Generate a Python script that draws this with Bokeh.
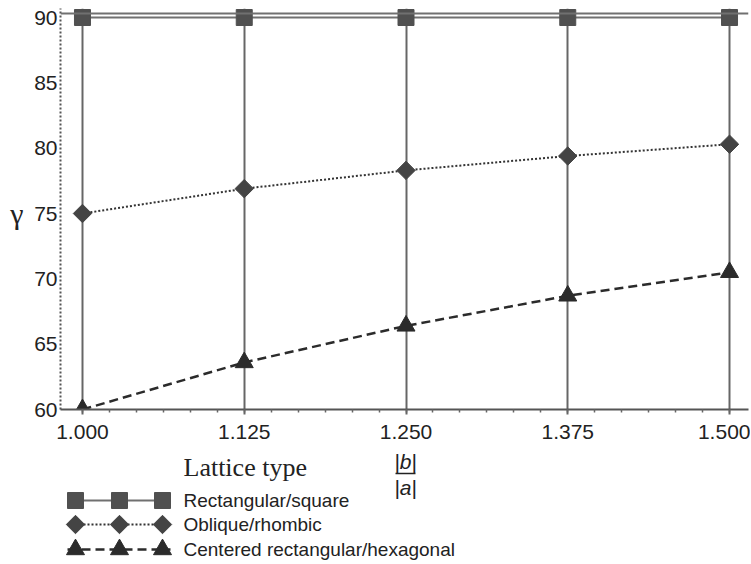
import numpy as np
from bokeh.plotting import figure
from bokeh.models import (Range1d, SingleIntervalTicker, NumeralTickFormatter, Span,
                          LinearAxis, FixedTicker)
from bokeh.layouts import column
from bokeh.embed import file_html
from bokeh.resources import INLINE
from bokeh.core.properties import value

# ---- data ----
ratio = [1.000, 1.125, 1.250, 1.375, 1.500]          # |b|/|a|
rect_square = [90.0, 90.0, 90.0, 90.0, 90.0]
oblique_rhombic = [75.0, 76.9, 78.3, 79.4, 80.3]
centered_hex = [60.0, 63.6, 66.4, 68.7, 70.5]
series_names = ["Rectangular/square", "Oblique/rhombic", "Centered rectangular/hexagonal"]
legend_title = "Lattice type"
y_label = "γ"
x_label_num = "|b|"
x_label_den = "|a|"

SANS = "Liberation Sans"
SERIF = "Liberation Serif"

styles = [
    dict(line_color="#707070", line_width=2, line_dash="solid",
         marker="square", size=16, color="#505050", angle=0.0),
    dict(line_color="#333333", line_width=2, line_dash="2 2",
         marker="square", size=13, color="#444444", angle=np.pi / 4),
    dict(line_color="#2b2b2b", line_width=2.5, line_dash="9 5",
         marker="triangle", size=18, color="#2b2b2b", angle=0.0),
]
series = [rect_square, oblique_rhombic, centered_hex]

BL, BR = 60, 2
FIG_W = 750
TOP_H = 449

# ---- main plot ----
p = figure(width=FIG_W, height=TOP_H,
           x_range=Range1d(0.98302, 1.51466), y_range=Range1d(60, 90.689),
           output_backend="svg", toolbar_location=None,
           min_border_left=BL, min_border_right=BR,
           min_border_top=8, min_border_bottom=40)
p.outline_line_color = None

xticker = SingleIntervalTicker(interval=0.125, num_minor_ticks=6)
xa = p.xaxis[0]
xa.ticker = xticker
xa.formatter = NumeralTickFormatter(format="0.000")
xa.major_label_text_font = SANS
xa.major_label_text_font_size = "21px"
xa.major_label_text_color = "#222222"
xa.axis_line_color = "#555555"
xa.axis_line_width = 2
xa.major_tick_out = 5
xa.major_tick_in = 0
xa.major_tick_line_color = "#666666"
xa.major_tick_line_width = 2
xa.minor_tick_out = 3
xa.minor_tick_in = 0
xa.minor_tick_line_color = "#666666"
xa.minor_tick_line_width = 1.5
xa.major_label_standoff = 10

ya = p.yaxis[0]
ya.ticker = SingleIntervalTicker(interval=5, num_minor_ticks=0)
ya.major_label_text_font = SANS
ya.major_label_text_font_size = "21px"
ya.major_label_text_color = "#222222"
ya.axis_line_color = "#555555"
ya.axis_line_width = 2
ya.axis_line_dash = "2 2"
ya.major_tick_out = 0
ya.major_tick_in = 0
ya.minor_tick_out = 0
ya.minor_tick_in = 0
ya.major_label_standoff = 3

# y-axis title "γ", drawn horizontally beside the 75 tick
ga = LinearAxis(ticker=FixedTicker(ticks=[75]), major_label_overrides={75: y_label})
ga.axis_line_color = None
ga.major_tick_out = 0
ga.major_tick_in = 0
ga.minor_tick_out = 0
ga.minor_tick_in = 0
ga.major_label_text_font = SERIF
ga.major_label_text_font_size = "30px"
ga.major_label_text_color = "#222222"
ga.major_label_standoff = 8
p.add_layout(ga, "left")

p.xgrid.ticker = xticker
p.xgrid.grid_line_color = "#666666"
p.xgrid.grid_line_width = 2
p.ygrid.visible = False

p.add_layout(Span(location=90.3, dimension="width", line_color="#707070", line_width=2))

for ys, st in zip(series, styles):
    p.line(ratio, ys, line_color=st["line_color"], line_width=st["line_width"],
           line_dash=st["line_dash"])
    p.scatter(ratio, ys, marker=st["marker"], size=st["size"], angle=st["angle"],
              fill_color=st["color"], line_color=st["color"])

# ---- legend / axis-title panel (coordinates = page pixels) ----
BOT_H = 564 - TOP_H
p2 = figure(width=FIG_W, height=BOT_H,
            x_range=Range1d(BL, FIG_W - BR), y_range=Range1d(564, TOP_H),
            output_backend="svg", toolbar_location=None,
            min_border_left=BL, min_border_right=BR, min_border_top=0, min_border_bottom=0,
            x_axis_type=None, y_axis_type=None)
p2.outline_line_color = None

# x-axis title as a fraction |b| / |a|
p2.text(x=[405], y=[461], text=[x_label_num], text_font=value(SANS),
        text_font_style="italic", text_font_size="21px", text_color="#222222",
        text_align="center", text_baseline="middle")
p2.line([395, 415], [473, 473], line_color="#222222", line_width=1.5)
p2.text(x=[405], y=[487], text=[x_label_den], text_font=value(SANS),
        text_font_style="italic", text_font_size="21px", text_color="#222222",
        text_align="center", text_baseline="middle")

# legend
p2.text(x=[183], y=[467], text=[legend_title], text_font=value(SERIF),
        text_font_size="26px", text_color="#222222", text_baseline="middle")
row_y = [500, 524, 549]
for yy, st in zip(row_y, styles):
    p2.line([67, 170], [yy, yy], line_color=st["line_color"], line_width=st["line_width"],
            line_dash=st["line_dash"])
    p2.scatter([75, 119, 162], [yy, yy, yy], marker=st["marker"], size=st["size"],
               angle=st["angle"], fill_color=st["color"], line_color=st["color"])
p2.text(x=[183, 183, 183], y=row_y, text=series_names, text_font=value(SANS),
        text_font_size="19px", text_color="#222222", text_baseline="middle")

layout = column(p, p2, spacing=0)
open("out.html", "w").write(file_html(layout, INLINE))
